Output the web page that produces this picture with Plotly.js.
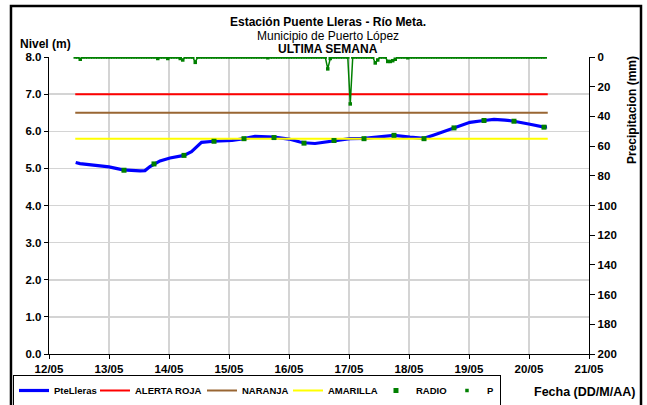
<!DOCTYPE html>
<html>
<head>
<meta charset="utf-8">
<script src="https://cdn.plot.ly/plotly-3.0.1.min.js"></script>
<style>html,body{margin:0;padding:0;background:#fff;}#chart{width:647px;height:405px;}</style>
</head>
<body>
<div id="chart"></div>
<script>
// ---- Level series (PteLleras) ----
var levelTimes = [
  '2011-05-12 10:40','2011-05-12 12:24','2011-05-13 00:00','2011-05-13 05:36','2011-05-13 12:24',
  '2011-05-13 14:24','2011-05-13 16:24','2011-05-13 18:00','2011-05-13 20:24','2011-05-14 00:24',
  '2011-05-14 06:00','2011-05-14 09:00','2011-05-14 11:00','2011-05-14 13:00','2011-05-14 18:00',
  '2011-05-14 20:24','2011-05-15 01:12','2011-05-15 06:00','2011-05-15 10:24','2011-05-15 18:00',
  '2011-05-16 00:00','2011-05-16 04:24','2011-05-16 06:00','2011-05-16 10:24','2011-05-16 18:00',
  '2011-05-17 00:24','2011-05-17 06:00','2011-05-17 12:24','2011-05-17 18:00','2011-05-18 00:24',
  '2011-05-18 06:00','2011-05-18 10:00','2011-05-18 14:00','2011-05-18 18:00','2011-05-18 22:24',
  '2011-05-19 00:24','2011-05-19 06:00','2011-05-19 10:00','2011-05-19 14:24','2011-05-19 18:00',
  '2011-05-20 00:24','2011-05-20 06:00','2011-05-20 07:12'
];
var levelValues = [
  5.16,5.13,5.04,4.96,4.93,
  4.94,5.05,5.12,5.20,5.28,
  5.35,5.45,5.58,5.70,5.73,
  5.74,5.75,5.80,5.86,5.84,
  5.79,5.71,5.69,5.67,5.75,
  5.80,5.81,5.85,5.89,5.84,
  5.81,5.90,6.00,6.09,6.21,
  6.24,6.29,6.32,6.30,6.27,
  6.19,6.11,6.12
];

// ---- Radio readings ----
var radioTimes = [
  '2011-05-13 06:00','2011-05-13 18:00','2011-05-14 06:00','2011-05-14 18:00','2011-05-15 06:00',
  '2011-05-15 18:00','2011-05-16 06:00','2011-05-16 18:00','2011-05-17 06:00','2011-05-17 18:00',
  '2011-05-18 06:00','2011-05-18 18:00','2011-05-19 06:00','2011-05-19 18:00','2011-05-20 06:00'
];
var radioValues = [4.95,5.12,5.35,5.73,5.80,5.83,5.68,5.75,5.80,5.89,5.80,6.09,6.29,6.27,6.11];

// ---- Alert thresholds ----
var alertSpan = ['2011-05-12 10:30','2011-05-20 07:30'];
var alertaRoja = [7.0, 7.0];
var naranja = [6.5, 6.5];
var amarilla = [5.8, 5.8];

// ---- Precipitation (hourly, from 12/05 10:30) ----
var precipStart = '2011-05-12 10:30';
var precipValues = [
  0,0,1.5,0,0,0,0,0,0,0,0,0,0,0,0,0,0,0,0,0,0,0,0,0,
  0,0,0,0,0,0,0,0,0,1,0,0,0,1,0,0,0,0,1,2,0,0,0,0,
  3.6,0,0,0,0,0,0,0,0,0,0,0,0,0,0,0,0,0,0,0,0,0,0,0,
  0,0,0,0,0,0.5,0,0,0,0,0,0,0,0,0,0,0,0,0,0,0,0,0,0,
  0,0,0,0,0,8,1,0,0,0,0,0,0,0,31.6,0,0,0,0,0,0,0,0,0,
  4,2,0,0,0,3,3,2.5,1.5,0,0,0,0,0.5,0,0,0,0,0,0,0,0,0,0,
  0,0,0,0,0,0,0,0,0,0,0,0,0,0,0,0,0,0,0,0,0,0,0,0,
  0,0,0,0,0,0,0,0,0,0,0,0,0,0,0,0,0,0,0,0,0
];

// ---- Tick labels ----
var xTickVals = ['2011-05-12','2011-05-13','2011-05-14','2011-05-15','2011-05-16',
                 '2011-05-17','2011-05-18','2011-05-19','2011-05-20','2011-05-21'];
var xTickText = ['12/05','13/05','14/05','15/05','16/05','17/05','18/05','19/05','20/05','21/05'];
var yTickVals = [0,1,2,3,4,5,6,7,8];
var yTickText = ['0.0','1.0','2.0','3.0','4.0','5.0','6.0','7.0','8.0'];
var y2TickVals = [0,20,40,60,80,100,120,140,160,180,200];
var y2TickText = ['0','20','40','60','80','100','120','140','160','180','200'];

// hourly sample times for the precipitation series
var t0 = new Date(precipStart.replace(' ', 'T') + ':00Z').getTime();
function fmt(ms){ var d = new Date(ms); var p = function(n){return (n<10?'0':'')+n;};
  return d.getUTCFullYear()+'-'+p(d.getUTCMonth()+1)+'-'+p(d.getUTCDate())+' '+p(d.getUTCHours())+':'+p(d.getUTCMinutes()); }
var precipTimes = precipValues.map(function(_, i){ return fmt(t0 + i*3600000); });

var GREEN = '#008000';
var FONT = 'Liberation Sans, Arial, sans-serif';

var traces = [
  {x: levelTimes, y: levelValues, name: 'PteLleras', mode: 'lines', line: {color: '#0000ff', width: 3.2}, legendrank: 1, legendwidth: 36},
  {x: alertSpan, y: alertaRoja, name: 'ALERTA ROJA', mode: 'lines', line: {color: '#ff0000', width: 2}, legendrank: 2, legendwidth: 62},
  {x: alertSpan, y: naranja, name: 'NARANJA', mode: 'lines', line: {color: '#996633', width: 2}, legendrank: 3, legendwidth: 41},
  {x: alertSpan, y: amarilla, name: 'AMARILLA', mode: 'lines', line: {color: '#ffff00', width: 2}, legendrank: 4, legendwidth: 43},
  {x: radioTimes, y: radioValues, name: 'RADIO', mode: 'markers', marker: {color: GREEN, size: 5, symbol: 'square'}, legendrank: 5, legendwidth: 26},
  {x: precipTimes, y: precipValues, name: 'P', yaxis: 'y2', mode: 'lines', line: {color: GREEN, width: 1.5}, showlegend: false, hoverinfo: 'skip'},
  {x: precipTimes, y: precipValues, name: 'P', yaxis: 'y2', mode: 'markers', marker: {color: GREEN, size: 3.5, symbol: 'square'}, legendrank: 6, legendwidth: 8}
];

var tickFont = {family: FONT, size: 11.5, color: '#000', weight: 700};
var layout = {
  width: 647, height: 405,
  margin: {l: 49, r: 58, t: 57, b: 51, pad: 0, autoexpand: false},
  paper_bgcolor: '#fff', plot_bgcolor: '#fff',
  font: {family: FONT, color: '#000'},
  showlegend: true,
  legend: {orientation: 'h', x: -0.0667, xanchor: 'left', y: -0.0707, yanchor: 'top',
           bordercolor: '#000', borderwidth: 1, bgcolor: '#fff',
           font: {family: FONT, size: 9.5, color: '#000', weight: 700}, itemwidth: 30},
  xaxis: {type: 'date', range: ['2011-05-12', '2011-05-21'], tickmode: 'array', tickvals: xTickVals, ticktext: xTickText,
          showgrid: true, gridcolor: '#d4d4d4', gridwidth: 1.5,
          showline: true, linecolor: '#000', linewidth: 1.3, ticks: 'outside', ticklen: 4, tickcolor: '#000',
          tickfont: tickFont, zeroline: false, fixedrange: true},
  yaxis: {range: [0, 8], tickmode: 'array', tickvals: yTickVals, ticktext: yTickText,
          showgrid: true, gridcolor: '#d4d4d4', gridwidth: 1.5,
          showline: true, linecolor: '#000', linewidth: 1.3, ticks: 'outside', ticklen: 4, tickcolor: '#000',
          tickfont: tickFont, zeroline: false},
  yaxis2: {overlaying: 'y', side: 'right', range: [200, 0], tickmode: 'array', tickvals: y2TickVals, ticktext: y2TickText,
           showgrid: false,
           showline: true, linecolor: '#000', linewidth: 1.3, ticks: 'outside', ticklen: 5, tickcolor: '#000',
           tickfont: tickFont, zeroline: false},
  annotations: [
    {text: '<b>Estación Puente Lleras - Río Meta.</b>', xref: 'paper', yref: 'paper', x: 0.5167, y: 1.1178, xanchor: 'center', yanchor: 'middle', showarrow: false, font: {family: FONT, size: 12, color: '#000'}},
    {text: 'Municipio de Puerto López', xref: 'paper', yref: 'paper', x: 0.5167, y: 1.0707, xanchor: 'center', yanchor: 'middle', showarrow: false, font: {family: FONT, size: 12, color: '#000'}},
    {text: '<b>ULTIMA SEMANA</b>', xref: 'paper', yref: 'paper', x: 0.5167, y: 1.0269, xanchor: 'center', yanchor: 'middle', showarrow: false, font: {family: FONT, size: 12, color: '#000'}},
    {text: '<b>Nivel (m)</b>', xref: 'paper', yref: 'paper', x: -0.0574, y: 1.0438, xanchor: 'left', yanchor: 'middle', showarrow: false, font: {family: FONT, size: 12, color: '#000'}},
    {text: '<b>Precipitacion (mm)</b>', xref: 'paper', yref: 'paper', x: 1.0796, y: 0.8215, xanchor: 'center', yanchor: 'middle', textangle: -90, showarrow: false, font: {family: FONT, size: 12, color: '#000'}},
    {text: '<b>Fecha (DD/M/AA)</b>', xref: 'paper', yref: 'paper', x: 0.9917, y: -0.128, xanchor: 'center', yanchor: 'middle', showarrow: false, font: {family: FONT, size: 12.5, color: '#000'}}
  ],
  shapes: [
    {type: 'rect', xref: 'paper', yref: 'paper', x0: -0.0704, x1: 1.0963, y0: -0.3, y1: 1.1717,
     line: {color: '#000', width: 2.5}, fillcolor: 'rgba(0,0,0,0)', layer: 'above'}
  ]
};

Plotly.newPlot('chart', traces, layout, {displayModeBar: false, staticPlot: true});
</script>
</body>
</html>
